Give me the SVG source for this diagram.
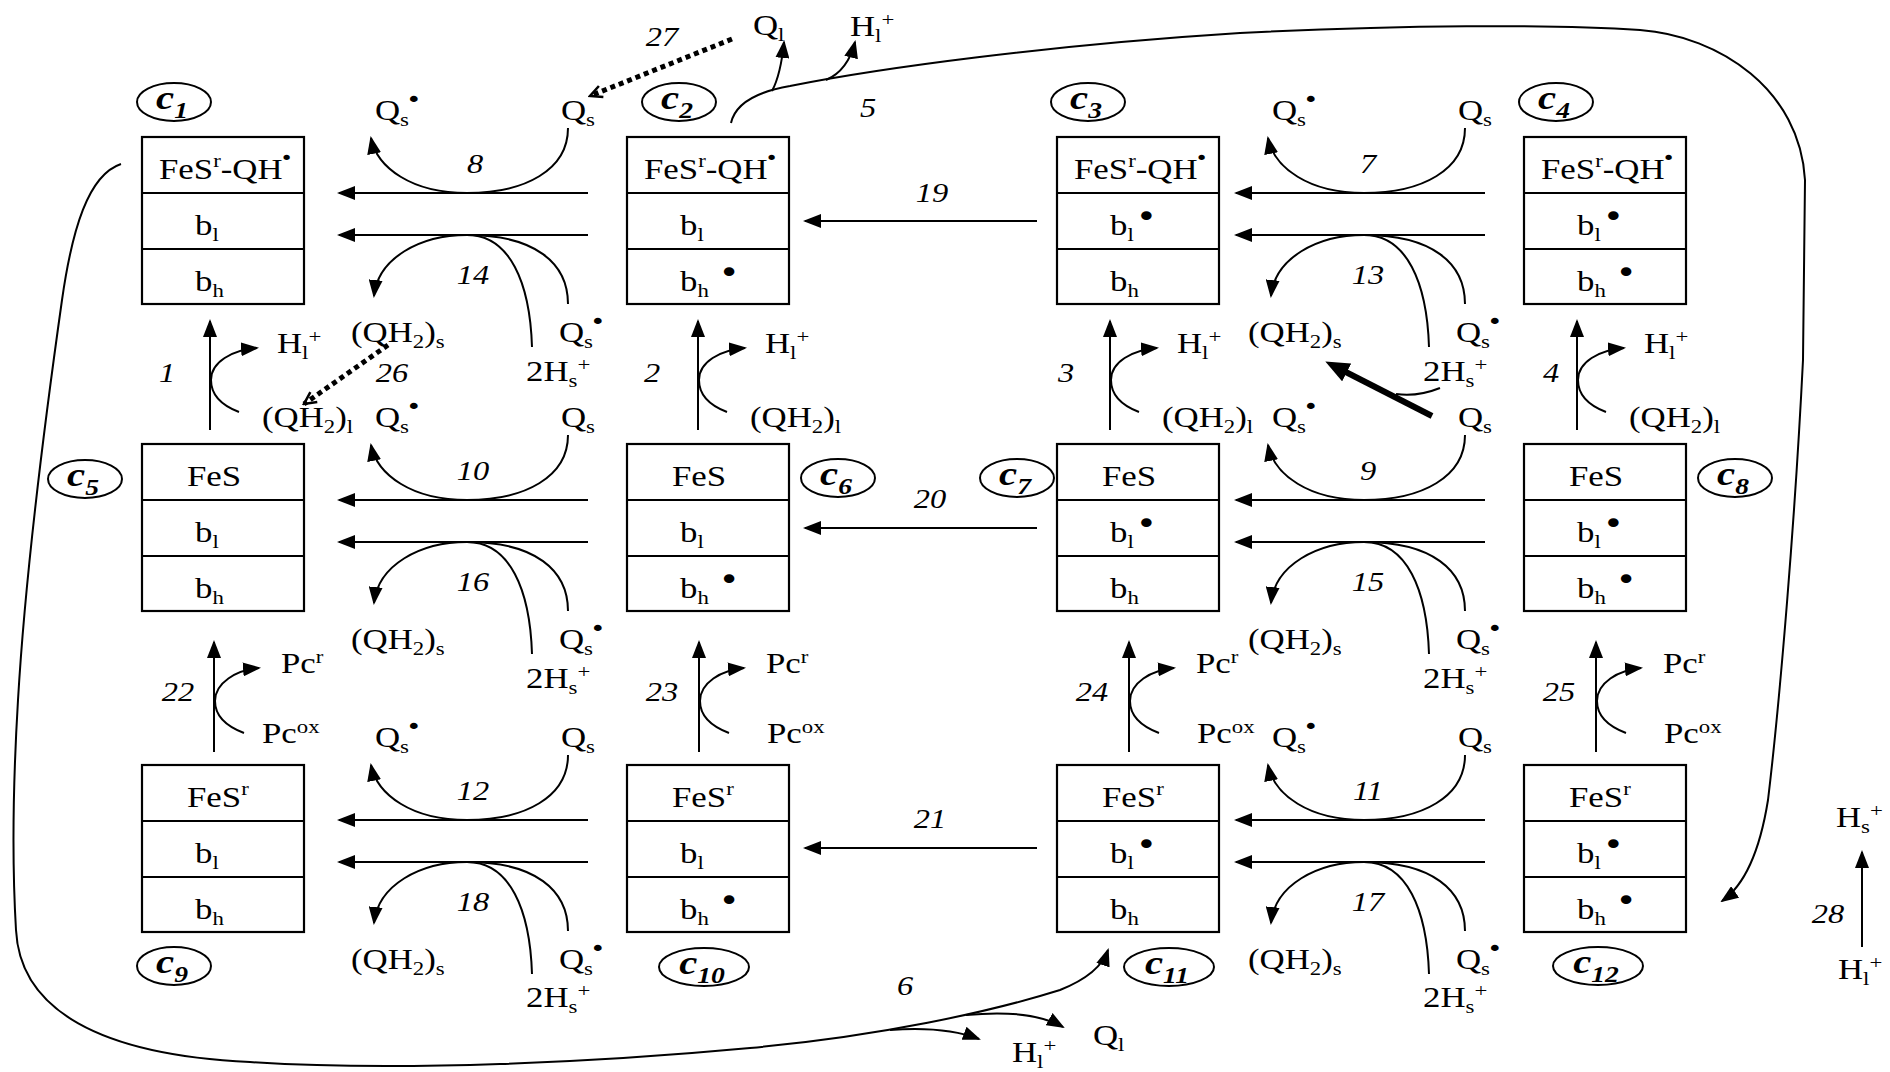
<svg xmlns="http://www.w3.org/2000/svg" width="1890" height="1072" viewBox="0 0 1890 1072">
<style>
.t{font-family:"Liberation Serif","Times New Roman",serif;font-size:29px;fill:#000}
.s{font-size:19px}
.d{font-family:"DejaVu Sans",sans-serif;font-size:22px}
.d2{font-family:"DejaVu Sans",sans-serif;font-size:18px}
.bd{font-family:"DejaVu Sans",sans-serif;font-size:30px}
.n{font-family:"Liberation Serif","Times New Roman",serif;font-style:italic;font-size:27px;fill:#000;text-anchor:middle}
.c{font-family:"Liberation Serif","Times New Roman",serif;font-style:italic;font-weight:bold;font-size:34px;fill:#000;text-anchor:middle}
.cs{font-size:23px}
.box{fill:#fff;stroke:#000;stroke-width:2.2}
.ov{fill:#fff;stroke:#000;stroke-width:2}
.ln{fill:none;stroke:#000;stroke-width:2}
.ar{fill:none;stroke:#000;stroke-width:2;marker-end:url(#ah)}
.dot{fill:none;stroke:#000;stroke-width:5;stroke-dasharray:5 4;marker-end:url(#chev)}
</style>
<defs>
<marker id="ah" viewBox="0 0 18 14" refX="16" refY="7" markerWidth="18" markerHeight="14" markerUnits="userSpaceOnUse" orient="auto"><path d="M0,0 L18,7 L0,14 z" fill="#000"/></marker>
<marker id="big" viewBox="0 0 24 20" refX="12" refY="10" markerWidth="24" markerHeight="20" markerUnits="userSpaceOnUse" orient="auto"><path d="M0,0 L24,10 L0,20 z" fill="#000"/></marker>
<marker id="chev" viewBox="-14 -8 16 16" refX="0" refY="0" markerWidth="16" markerHeight="16" markerUnits="userSpaceOnUse" orient="auto"><path d="M-12,-6 L0,0 L-12,6" fill="none" stroke="#000" stroke-width="2.5"/></marker>
</defs>
<rect width="1890" height="1072" fill="#fff"/>

<!-- connectors -->
<g id="connectors">
<!-- left pair row1 -->
<path class="ar" d="M588,193 H339"/><path class="ar" d="M588,235 H339"/>
<path class="ar" d="M568,128 C568,170 525,193 467,193 C412,193 377,168 371,138"/>
<path class="ar" d="M467,235 C420,235 378,258 374,296"/>
<path class="ln" d="M467,235 C510,235 530,283 532,347"/>
<path class="ln" d="M467,235 C535,235 568,263 568,304"/>
<!-- left pair row2 -->
<path class="ar" d="M588,500 H339"/><path class="ar" d="M588,542 H339"/>
<path class="ar" d="M568,435 C568,477 525,500 467,500 C412,500 377,475 371,445"/>
<path class="ar" d="M467,542 C420,542 378,565 374,603"/>
<path class="ln" d="M467,542 C510,542 530,590 532,654"/>
<path class="ln" d="M467,542 C535,542 568,570 568,611"/>
<!-- left pair row3 -->
<path class="ar" d="M588,820 H339"/><path class="ar" d="M588,862 H339"/>
<path class="ar" d="M568,755 C568,797 525,820 467,820 C412,820 377,795 371,765"/>
<path class="ar" d="M467,862 C420,862 378,885 374,923"/>
<path class="ln" d="M467,862 C510,862 530,910 532,974"/>
<path class="ln" d="M467,862 C535,862 568,890 568,931"/>
<!-- right pair row1 -->
<path class="ar" d="M1485,193 H1236"/><path class="ar" d="M1485,235 H1236"/>
<path class="ar" d="M1465,128 C1465,170 1422,193 1364,193 C1309,193 1274,168 1268,138"/>
<path class="ar" d="M1364,235 C1317,235 1275,258 1271,296"/>
<path class="ln" d="M1364,235 C1407,235 1427,283 1429,347"/>
<path class="ln" d="M1364,235 C1432,235 1465,263 1465,304"/>
<!-- right pair row2 -->
<path class="ar" d="M1485,500 H1236"/><path class="ar" d="M1485,542 H1236"/>
<path class="ar" d="M1465,435 C1465,477 1422,500 1364,500 C1309,500 1274,475 1268,445"/>
<path class="ar" d="M1364,542 C1317,542 1275,565 1271,603"/>
<path class="ln" d="M1364,542 C1407,542 1427,590 1429,654"/>
<path class="ln" d="M1364,542 C1432,542 1465,570 1465,611"/>
<!-- right pair row3 -->
<path class="ar" d="M1485,820 H1236"/><path class="ar" d="M1485,862 H1236"/>
<path class="ar" d="M1465,755 C1465,797 1422,820 1364,820 C1309,820 1274,795 1268,765"/>
<path class="ar" d="M1364,862 C1317,862 1275,885 1271,923"/>
<path class="ln" d="M1364,862 C1407,862 1427,910 1429,974"/>
<path class="ln" d="M1364,862 C1432,862 1465,890 1465,931"/>
<!-- middle arrows 19 20 21 -->
<path class="ar" d="M1037,221 H805"/>
<path class="ar" d="M1037,528 H805"/>
<path class="ar" d="M1037,848 H805"/>
<!-- vertical arrows 1-4 -->
<path class="ar" d="M210,430 V321"/><path class="ar" d="M239,412 C218,404 211,392 211,380 C211,362 232,350 257,348"/>
<path class="ar" d="M698,430 V321"/><path class="ar" d="M727,412 C706,404 699,392 699,380 C699,362 720,350 745,348"/>
<path class="ar" d="M1110,430 V321"/><path class="ar" d="M1139,412 C1118,404 1111,392 1111,380 C1111,362 1132,350 1157,348"/>
<path class="ar" d="M1577,430 V321"/><path class="ar" d="M1606,412 C1585,404 1578,392 1578,380 C1578,362 1599,350 1624,348"/>
<!-- vertical arrows 22-25 -->
<path class="ar" d="M214,752 V642"/><path class="ar" d="M244,733 C223,725 215,713 215,701 C215,683 236,670 259,668"/>
<path class="ar" d="M699,752 V642"/><path class="ar" d="M729,733 C708,725 700,713 700,701 C700,683 721,670 744,668"/>
<path class="ar" d="M1129,752 V642"/><path class="ar" d="M1159,733 C1138,725 1130,713 1130,701 C1130,683 1151,670 1174,668"/>
<path class="ar" d="M1596,752 V642"/><path class="ar" d="M1626,733 C1605,725 1597,713 1597,701 C1597,683 1618,670 1641,668"/>
<!-- 28 -->
<path class="ar" d="M1862,947 V852"/>
<!-- 5 -->
<path class="ar" d="M731,123 C735,105 755,92 790,86 C880,68 1050,45 1240,33 C1400,25 1550,24 1640,30 C1720,36 1800,90 1805,180 L1803,360 C1795,520 1780,700 1768,800 C1760,850 1745,885 1722,901"/>
<path class="ar" d="M772,91 C779,78 782,62 784,42"/>
<path class="ar" d="M826,80 C840,74 850,62 855,42"/>
<!-- 6 -->
<path class="ar" d="M121,164 C88,175 72,230 62,300 C45,420 25,580 18,700 C12,800 13,880 16,930 C20,1010 100,1055 250,1062 C400,1072 600,1062 750,1048 C880,1036 990,1012 1060,990 C1090,978 1103,965 1108,950"/>
<path class="ar" d="M890,1030 C930,1027 958,1031 979,1039"/>
<path class="ar" d="M966,1015 C1008,1011 1042,1015 1063,1027"/>
<!-- dotted 27, 26 -->
<path class="dot" d="M732,39 L590,96"/>
<path class="dot" d="M388,345 L304,404"/>
<!-- thick arrow -->
<path d="M1432,416 L1336,367" fill="none" stroke="#000" stroke-width="6" marker-end="url(#big)"/>
<path class="ln" d="M1440,388 C1425,394 1410,396 1396,394"/>
</g>

<!-- nodes -->
<g id="c1">
<rect class="box" x="142" y="137" width="162" height="167"/><path class="ln" d="M142,193 H304 M142,249 H304"/>
<text class="t" transform="translate(159 179) scale(1.2 1)">FeS<tspan class="s" dy="-12">r</tspan><tspan dy="12">-QH</tspan><tspan class="d2" dx="-2" dy="-15">•</tspan></text>
<text class="t" transform="translate(195 235) scale(1.2 1)">b<tspan class="s" dy="6">l</tspan></text>
<text class="t" transform="translate(195 291) scale(1.2 1)">b<tspan class="s" dy="6">h</tspan></text>
<ellipse class="ov" cx="174" cy="102" rx="37" ry="19"/>
<text class="c" transform="translate(172 109) scale(1.2 1)">c<tspan class="cs" dy="9">1</tspan></text>
</g>
<g id="c2">
<rect class="box" x="627" y="137" width="162" height="167"/><path class="ln" d="M627,193 H789 M627,249 H789"/>
<text class="t" transform="translate(644 179) scale(1.2 1)">FeS<tspan class="s" dy="-12">r</tspan><tspan dy="12">-QH</tspan><tspan class="d2" dx="-2" dy="-15">•</tspan></text>
<text class="t" transform="translate(680 235) scale(1.2 1)">b<tspan class="s" dy="6">l</tspan></text>
<text class="t" transform="translate(680 291) scale(1.2 1)">b<tspan class="s" dy="6">h</tspan><tspan class="bd" dx="8" dy="-14">•</tspan></text>
<ellipse class="ov" cx="679" cy="102" rx="37" ry="19"/>
<text class="c" transform="translate(677 109) scale(1.2 1)">c<tspan class="cs" dy="9">2</tspan></text>
</g>
<g id="c3">
<rect class="box" x="1057" y="137" width="162" height="167"/><path class="ln" d="M1057,193 H1219 M1057,249 H1219"/>
<text class="t" transform="translate(1074 179) scale(1.2 1)">FeS<tspan class="s" dy="-12">r</tspan><tspan dy="12">-QH</tspan><tspan class="d2" dx="-2" dy="-15">•</tspan></text>
<text class="t" transform="translate(1110 235) scale(1.2 1)">b<tspan class="s" dy="6">l</tspan><tspan class="bd" dx="1.7" dy="-14">•</tspan></text>
<text class="t" transform="translate(1110 291) scale(1.2 1)">b<tspan class="s" dy="6">h</tspan></text>
<ellipse class="ov" cx="1088" cy="102" rx="37" ry="19"/>
<text class="c" transform="translate(1086 109) scale(1.2 1)">c<tspan class="cs" dy="9">3</tspan></text>
</g>
<g id="c4">
<rect class="box" x="1524" y="137" width="162" height="167"/><path class="ln" d="M1524,193 H1686 M1524,249 H1686"/>
<text class="t" transform="translate(1541 179) scale(1.2 1)">FeS<tspan class="s" dy="-12">r</tspan><tspan dy="12">-QH</tspan><tspan class="d2" dx="-2" dy="-15">•</tspan></text>
<text class="t" transform="translate(1577 235) scale(1.2 1)">b<tspan class="s" dy="6">l</tspan><tspan class="bd" dx="1.7" dy="-14">•</tspan></text>
<text class="t" transform="translate(1577 291) scale(1.2 1)">b<tspan class="s" dy="6">h</tspan><tspan class="bd" dx="8" dy="-14">•</tspan></text>
<ellipse class="ov" cx="1556" cy="102" rx="37" ry="19"/>
<text class="c" transform="translate(1554 109) scale(1.2 1)">c<tspan class="cs" dy="9">4</tspan></text>
</g>
<g id="c5">
<rect class="box" x="142" y="444" width="162" height="167"/><path class="ln" d="M142,500 H304 M142,556 H304"/>
<text class="t" transform="translate(187 486) scale(1.2 1)">FeS</text>
<text class="t" transform="translate(195 542) scale(1.2 1)">b<tspan class="s" dy="6">l</tspan></text>
<text class="t" transform="translate(195 598) scale(1.2 1)">b<tspan class="s" dy="6">h</tspan></text>
<ellipse class="ov" cx="85" cy="479" rx="37" ry="19"/>
<text class="c" transform="translate(83 486) scale(1.2 1)">c<tspan class="cs" dy="9">5</tspan></text>
</g>
<g id="c6">
<rect class="box" x="627" y="444" width="162" height="167"/><path class="ln" d="M627,500 H789 M627,556 H789"/>
<text class="t" transform="translate(672 486) scale(1.2 1)">FeS</text>
<text class="t" transform="translate(680 542) scale(1.2 1)">b<tspan class="s" dy="6">l</tspan></text>
<text class="t" transform="translate(680 598) scale(1.2 1)">b<tspan class="s" dy="6">h</tspan><tspan class="bd" dx="8" dy="-14">•</tspan></text>
<ellipse class="ov" cx="838" cy="478" rx="37" ry="19"/>
<text class="c" transform="translate(836 485) scale(1.2 1)">c<tspan class="cs" dy="9">6</tspan></text>
</g>
<g id="c7">
<rect class="box" x="1057" y="444" width="162" height="167"/><path class="ln" d="M1057,500 H1219 M1057,556 H1219"/>
<text class="t" transform="translate(1102 486) scale(1.2 1)">FeS</text>
<text class="t" transform="translate(1110 542) scale(1.2 1)">b<tspan class="s" dy="6">l</tspan><tspan class="bd" dx="1.7" dy="-14">•</tspan></text>
<text class="t" transform="translate(1110 598) scale(1.2 1)">b<tspan class="s" dy="6">h</tspan></text>
<ellipse class="ov" cx="1017" cy="478" rx="37" ry="19"/>
<text class="c" transform="translate(1015 485) scale(1.2 1)">c<tspan class="cs" dy="9">7</tspan></text>
</g>
<g id="c8">
<rect class="box" x="1524" y="444" width="162" height="167"/><path class="ln" d="M1524,500 H1686 M1524,556 H1686"/>
<text class="t" transform="translate(1569 486) scale(1.2 1)">FeS</text>
<text class="t" transform="translate(1577 542) scale(1.2 1)">b<tspan class="s" dy="6">l</tspan><tspan class="bd" dx="1.7" dy="-14">•</tspan></text>
<text class="t" transform="translate(1577 598) scale(1.2 1)">b<tspan class="s" dy="6">h</tspan><tspan class="bd" dx="8" dy="-14">•</tspan></text>
<ellipse class="ov" cx="1735" cy="478" rx="37" ry="19"/>
<text class="c" transform="translate(1733 485) scale(1.2 1)">c<tspan class="cs" dy="9">8</tspan></text>
</g>
<g id="c9">
<rect class="box" x="142" y="765" width="162" height="167"/><path class="ln" d="M142,821 H304 M142,877 H304"/>
<text class="t" transform="translate(187 807) scale(1.2 1)">FeS<tspan class="s" dy="-12">r</tspan></text>
<text class="t" transform="translate(195 863) scale(1.2 1)">b<tspan class="s" dy="6">l</tspan></text>
<text class="t" transform="translate(195 919) scale(1.2 1)">b<tspan class="s" dy="6">h</tspan></text>
<ellipse class="ov" cx="174" cy="966" rx="37" ry="19"/>
<text class="c" transform="translate(172 973) scale(1.2 1)">c<tspan class="cs" dy="9">9</tspan></text>
</g>
<g id="c10">
<rect class="box" x="627" y="765" width="162" height="167"/><path class="ln" d="M627,821 H789 M627,877 H789"/>
<text class="t" transform="translate(672 807) scale(1.2 1)">FeS<tspan class="s" dy="-12">r</tspan></text>
<text class="t" transform="translate(680 863) scale(1.2 1)">b<tspan class="s" dy="6">l</tspan></text>
<text class="t" transform="translate(680 919) scale(1.2 1)">b<tspan class="s" dy="6">h</tspan><tspan class="bd" dx="8" dy="-14">•</tspan></text>
<ellipse class="ov" cx="704" cy="967" rx="45" ry="19"/>
<text class="c" transform="translate(702 974) scale(1.2 1)">c<tspan class="cs" dy="9">10</tspan></text>
</g>
<g id="c11">
<rect class="box" x="1057" y="765" width="162" height="167"/><path class="ln" d="M1057,821 H1219 M1057,877 H1219"/>
<text class="t" transform="translate(1102 807) scale(1.2 1)">FeS<tspan class="s" dy="-12">r</tspan></text>
<text class="t" transform="translate(1110 863) scale(1.2 1)">b<tspan class="s" dy="6">l</tspan><tspan class="bd" dx="1.7" dy="-14">•</tspan></text>
<text class="t" transform="translate(1110 919) scale(1.2 1)">b<tspan class="s" dy="6">h</tspan></text>
<ellipse class="ov" cx="1169" cy="967" rx="45" ry="19"/>
<text class="c" transform="translate(1167 974) scale(1.2 1)">c<tspan class="cs" dy="9">11</tspan></text>
</g>
<g id="c12">
<rect class="box" x="1524" y="765" width="162" height="167"/><path class="ln" d="M1524,821 H1686 M1524,877 H1686"/>
<text class="t" transform="translate(1569 807) scale(1.2 1)">FeS<tspan class="s" dy="-12">r</tspan></text>
<text class="t" transform="translate(1577 863) scale(1.2 1)">b<tspan class="s" dy="6">l</tspan><tspan class="bd" dx="1.7" dy="-14">•</tspan></text>
<text class="t" transform="translate(1577 919) scale(1.2 1)">b<tspan class="s" dy="6">h</tspan><tspan class="bd" dx="8" dy="-14">•</tspan></text>
<ellipse class="ov" cx="1598" cy="966" rx="45" ry="19"/>
<text class="c" transform="translate(1596 973) scale(1.2 1)">c<tspan class="cs" dy="9">12</tspan></text>
</g>

<!-- species labels -->
<g id="species">
<!-- left pair -->
<text class="t" transform="translate(375 120) scale(1.2 1)">Q<tspan class="s" dy="6">s</tspan><tspan class="d" dx="-2.5" dy="-19">•</tspan></text>
<text class="t" transform="translate(561 120) scale(1.2 1)">Q<tspan class="s" dy="6">s</tspan></text>
<text class="t" transform="translate(351 342) scale(1.2 1)">(QH<tspan class="s" dy="6">2</tspan><tspan dy="-6">)</tspan><tspan class="s" dy="6">s</tspan></text>
<text class="t" transform="translate(559 342) scale(1.2 1)">Q<tspan class="s" dy="6">s</tspan><tspan class="d" dx="-2.5" dy="-19">•</tspan></text>
<text class="t" transform="translate(526 381) scale(1.2 1)">2H<tspan class="s" dy="6">s</tspan><tspan class="s" dy="-16">+</tspan></text>

<text class="t" transform="translate(375 427) scale(1.2 1)">Q<tspan class="s" dy="6">s</tspan><tspan class="d" dx="-2.5" dy="-19">•</tspan></text>
<text class="t" transform="translate(561 427) scale(1.2 1)">Q<tspan class="s" dy="6">s</tspan></text>
<text class="t" transform="translate(351 649) scale(1.2 1)">(QH<tspan class="s" dy="6">2</tspan><tspan dy="-6">)</tspan><tspan class="s" dy="6">s</tspan></text>
<text class="t" transform="translate(559 649) scale(1.2 1)">Q<tspan class="s" dy="6">s</tspan><tspan class="d" dx="-2.5" dy="-19">•</tspan></text>
<text class="t" transform="translate(526 688) scale(1.2 1)">2H<tspan class="s" dy="6">s</tspan><tspan class="s" dy="-16">+</tspan></text>

<text class="t" transform="translate(375 747) scale(1.2 1)">Q<tspan class="s" dy="6">s</tspan><tspan class="d" dx="-2.5" dy="-19">•</tspan></text>
<text class="t" transform="translate(561 747) scale(1.2 1)">Q<tspan class="s" dy="6">s</tspan></text>
<text class="t" transform="translate(351 969) scale(1.2 1)">(QH<tspan class="s" dy="6">2</tspan><tspan dy="-6">)</tspan><tspan class="s" dy="6">s</tspan></text>
<text class="t" transform="translate(559 969) scale(1.2 1)">Q<tspan class="s" dy="6">s</tspan><tspan class="d" dx="-2.5" dy="-19">•</tspan></text>
<text class="t" transform="translate(526 1007) scale(1.2 1)">2H<tspan class="s" dy="6">s</tspan><tspan class="s" dy="-16">+</tspan></text>
<!-- right pair -->
<text class="t" transform="translate(1272 120) scale(1.2 1)">Q<tspan class="s" dy="6">s</tspan><tspan class="d" dx="-2.5" dy="-19">•</tspan></text>
<text class="t" transform="translate(1458 120) scale(1.2 1)">Q<tspan class="s" dy="6">s</tspan></text>
<text class="t" transform="translate(1248 342) scale(1.2 1)">(QH<tspan class="s" dy="6">2</tspan><tspan dy="-6">)</tspan><tspan class="s" dy="6">s</tspan></text>
<text class="t" transform="translate(1456 342) scale(1.2 1)">Q<tspan class="s" dy="6">s</tspan><tspan class="d" dx="-2.5" dy="-19">•</tspan></text>
<text class="t" transform="translate(1423 381) scale(1.2 1)">2H<tspan class="s" dy="6">s</tspan><tspan class="s" dy="-16">+</tspan></text>

<text class="t" transform="translate(1272 427) scale(1.2 1)">Q<tspan class="s" dy="6">s</tspan><tspan class="d" dx="-2.5" dy="-19">•</tspan></text>
<text class="t" transform="translate(1458 427) scale(1.2 1)">Q<tspan class="s" dy="6">s</tspan></text>
<text class="t" transform="translate(1248 649) scale(1.2 1)">(QH<tspan class="s" dy="6">2</tspan><tspan dy="-6">)</tspan><tspan class="s" dy="6">s</tspan></text>
<text class="t" transform="translate(1456 649) scale(1.2 1)">Q<tspan class="s" dy="6">s</tspan><tspan class="d" dx="-2.5" dy="-19">•</tspan></text>
<text class="t" transform="translate(1423 688) scale(1.2 1)">2H<tspan class="s" dy="6">s</tspan><tspan class="s" dy="-16">+</tspan></text>

<text class="t" transform="translate(1272 747) scale(1.2 1)">Q<tspan class="s" dy="6">s</tspan><tspan class="d" dx="-2.5" dy="-19">•</tspan></text>
<text class="t" transform="translate(1458 747) scale(1.2 1)">Q<tspan class="s" dy="6">s</tspan></text>
<text class="t" transform="translate(1248 969) scale(1.2 1)">(QH<tspan class="s" dy="6">2</tspan><tspan dy="-6">)</tspan><tspan class="s" dy="6">s</tspan></text>
<text class="t" transform="translate(1456 969) scale(1.2 1)">Q<tspan class="s" dy="6">s</tspan><tspan class="d" dx="-2.5" dy="-19">•</tspan></text>
<text class="t" transform="translate(1423 1007) scale(1.2 1)">2H<tspan class="s" dy="6">s</tspan><tspan class="s" dy="-16">+</tspan></text>
<!-- gap 1-2 -->
<text class="t" transform="translate(277 353) scale(1.2 1)">H<tspan class="s" dy="6">l</tspan><tspan class="s" dy="-16">+</tspan></text>
<text class="t" transform="translate(765 353) scale(1.2 1)">H<tspan class="s" dy="6">l</tspan><tspan class="s" dy="-16">+</tspan></text>
<text class="t" transform="translate(1177 353) scale(1.2 1)">H<tspan class="s" dy="6">l</tspan><tspan class="s" dy="-16">+</tspan></text>
<text class="t" transform="translate(1644 353) scale(1.2 1)">H<tspan class="s" dy="6">l</tspan><tspan class="s" dy="-16">+</tspan></text>
<text class="t" transform="translate(262 427) scale(1.2 1)">(QH<tspan class="s" dy="6">2</tspan><tspan dy="-6">)</tspan><tspan class="s" dy="6">l</tspan></text>
<text class="t" transform="translate(750 427) scale(1.2 1)">(QH<tspan class="s" dy="6">2</tspan><tspan dy="-6">)</tspan><tspan class="s" dy="6">l</tspan></text>
<text class="t" transform="translate(1162 427) scale(1.2 1)">(QH<tspan class="s" dy="6">2</tspan><tspan dy="-6">)</tspan><tspan class="s" dy="6">l</tspan></text>
<text class="t" transform="translate(1629 427) scale(1.2 1)">(QH<tspan class="s" dy="6">2</tspan><tspan dy="-6">)</tspan><tspan class="s" dy="6">l</tspan></text>
<!-- gap 2-3 -->
<text class="t" transform="translate(281 673) scale(1.2 1)">Pc<tspan class="s" dy="-10">r</tspan></text>
<text class="t" transform="translate(766 673) scale(1.2 1)">Pc<tspan class="s" dy="-10">r</tspan></text>
<text class="t" transform="translate(1196 673) scale(1.2 1)">Pc<tspan class="s" dy="-10">r</tspan></text>
<text class="t" transform="translate(1663 673) scale(1.2 1)">Pc<tspan class="s" dy="-10">r</tspan></text>
<text class="t" transform="translate(262 743) scale(1.2 1)">Pc<tspan class="s" dy="-10">ox</tspan></text>
<text class="t" transform="translate(767 743) scale(1.2 1)">Pc<tspan class="s" dy="-10">ox</tspan></text>
<text class="t" transform="translate(1197 743) scale(1.2 1)">Pc<tspan class="s" dy="-10">ox</tspan></text>
<text class="t" transform="translate(1664 743) scale(1.2 1)">Pc<tspan class="s" dy="-10">ox</tspan></text>
<!-- top and bottom -->
<text class="t" transform="translate(753 35) scale(1.2 1)">Q<tspan class="s" dy="6">l</tspan></text>
<text class="t" transform="translate(850 36) scale(1.2 1)">H<tspan class="s" dy="6">l</tspan><tspan class="s" dy="-16">+</tspan></text>
<text class="t" transform="translate(1012 1062) scale(1.2 1)">H<tspan class="s" dy="6">l</tspan><tspan class="s" dy="-16">+</tspan></text>
<text class="t" transform="translate(1093 1045) scale(1.2 1)">Q<tspan class="s" dy="6">l</tspan></text>
<text class="t" transform="translate(1836 827) scale(1.2 1)">H<tspan class="s" dy="6">s</tspan><tspan class="s" dy="-16">+</tspan></text>
<text class="t" transform="translate(1838 979) scale(1.2 1)">H<tspan class="s" dy="6">l</tspan><tspan class="s" dy="-16">+</tspan></text>
</g>

<!-- reaction numbers -->
<g id="numbers">
<text class="n" transform="translate(475 173) scale(1.2 1)">8</text>
<text class="n" transform="translate(473 284) scale(1.2 1)">14</text>
<text class="n" transform="translate(473 480) scale(1.2 1)">10</text>
<text class="n" transform="translate(473 591) scale(1.2 1)">16</text>
<text class="n" transform="translate(473 800) scale(1.2 1)">12</text>
<text class="n" transform="translate(473 911) scale(1.2 1)">18</text>
<text class="n" transform="translate(1368 173) scale(1.2 1)">7</text>
<text class="n" transform="translate(1368 284) scale(1.2 1)">13</text>
<text class="n" transform="translate(1368 480) scale(1.2 1)">9</text>
<text class="n" transform="translate(1368 591) scale(1.2 1)">15</text>
<text class="n" transform="translate(1368 800) scale(1.2 1)">11</text>
<text class="n" transform="translate(1368 911) scale(1.2 1)">17</text>
<text class="n" transform="translate(932 202) scale(1.2 1)">19</text>
<text class="n" transform="translate(930 508) scale(1.2 1)">20</text>
<text class="n" transform="translate(930 828) scale(1.2 1)">21</text>
<text class="n" transform="translate(167 382) scale(1.2 1)">1</text>
<text class="n" transform="translate(652 382) scale(1.2 1)">2</text>
<text class="n" transform="translate(1066 382) scale(1.2 1)">3</text>
<text class="n" transform="translate(1551 382) scale(1.2 1)">4</text>
<text class="n" transform="translate(178 701) scale(1.2 1)">22</text>
<text class="n" transform="translate(662 701) scale(1.2 1)">23</text>
<text class="n" transform="translate(1092 701) scale(1.2 1)">24</text>
<text class="n" transform="translate(1559 701) scale(1.2 1)">25</text>
<text class="n" transform="translate(662 46) scale(1.2 1)">27</text>
<text class="n" transform="translate(392 382) scale(1.2 1)">26</text>
<text class="n" transform="translate(868 117) scale(1.2 1)">5</text>
<text class="n" transform="translate(905 995) scale(1.2 1)">6</text>
<text class="n" transform="translate(1828 923) scale(1.2 1)">28</text>
</g>
</svg>
